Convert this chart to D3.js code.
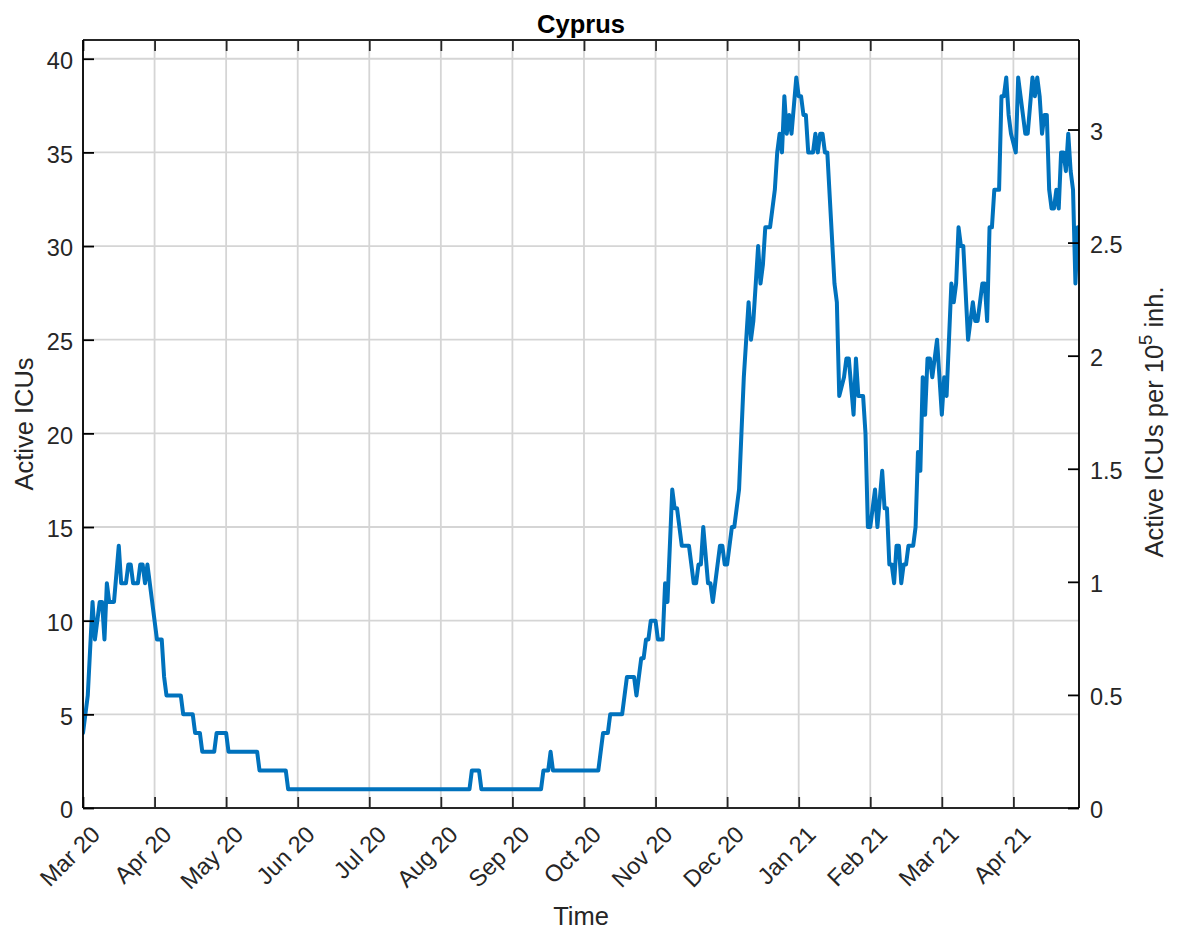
<!DOCTYPE html>
<html><head><meta charset="utf-8">
<script src="https://cdn.jsdelivr.net/npm/d3@7"></script>
<style>
body{margin:0;background:#fff}
svg{display:block}
text{font-family:"Liberation Sans",Arial,Helvetica,sans-serif}
</style>
</head><body>
<svg id="chart" width="1181" height="933"></svg>
<script>
// ---- data ----
const chartTitle = "Cyprus";
const xLabel = "Time";
const yLabelLeft = "Active ICUs";
const xTickDays = [0,30,60,90,120,150,180,210,240,270,300,330,360,390];
const xTickLabels = ["Mar 20","Apr 20","May 20","Jun 20","Jul 20","Aug 20","Sep 20","Oct 20","Nov 20","Dec 20","Jan 21","Feb 21","Mar 21","Apr 21"];
const leftTicks = [0,5,10,15,20,25,30,35,40];
const rightTicks = [0,0.5,1,1.5,2,2.5,3];
const population = 1207359;
const lastDay = 417.5;
const yMax = 41;
// polyline vertices: day index since 1 Mar 2020, active ICU count
const days = [0,1,2,4,5,7,8,9,10,11,13,15,16,18,19,20,21,23,24,25,26,27,31,33,34,35,41,42,46,47,49,50,55,56,60,61,73,74,85,86,
  162,163,166,167,192,193,195,196,197,216,218,220,221,226,228,231,232,234,235,236,237,238,240,241,243,244,245,247,248,249,251,254,256,257,258,259,260,262,263,264,267,268,269,270,272,273,275,276,277,278,279,280,281,282,283,284,285,286,288,290,291,292,293,294,295,296,297,299,300,301,302,303,304,306,307,308,309,310,311,312,315,316,317,
  319,320,321,323,324,325,327,328,329,330,332,333,335,336,337,338,339,340,341,342,343,344,345,346,348,349,350,351,352,353,354,355,356,357,358,360,361,362,364,365,366,367,368,369,371,372,373,374,375,377,378,379,
  380,381,382,384,385,386,387,388,389,391,392,393,395,396,398,399,400,401,402,403,404,405,406,407,408,409,410,411,412,413,414,415,416,417];
const icus = [4,5,6,11,9,11,11,9,12,11,11,14,12,12,13,13,12,12,13,13,12,13,9,9,7,6,6,5,5,4,4,3,3,4,4,3,3,2,2,1,
  1,2,2,1,1,2,2,3,2,2,4,4,5,5,7,7,6,8,8,9,9,10,10,9,9,12,11,17,16,16,14,14,12,12,13,13,15,12,12,11,14,14,13,13,15,15,17,20,23,25,27,25,26,28,30,28,29,31,31,33,35,36,35,38,36,37,36,39,38,38,37,37,35,35,36,35,36,36,35,35,28,27,22,
  23,24,24,21,24,22,22,20,15,15,17,15,18,16,16,13,13,12,14,14,12,13,13,14,14,15,19,18,23,21,24,24,23,24,25,21,23,22,28,27,28,31,30,30,25,26,27,26,26,28,28,26,
  31,31,33,33,38,38,39,37,36,35,39,38,36,36,39,38,39,38,36,37,37,33,32,32,33,32,35,35,34,36,34,33,28,31];

// ---- layout ----
const L = 83, R = 1079, T = 40, B = 808;
const tickFont = 23.5, labelFont = 25.5;
const axisColor = "#262626";

const svg = d3.select("#chart");
const x = d3.scaleLinear().domain([0, lastDay]).range([L, R]);
const y = d3.scaleLinear().domain([0, yMax]).range([B, T]);
const y2 = d3.scaleLinear().domain([0, yMax * 1e5 / population]).range([B, T]);

// grid
const grid = svg.append("g").attr("stroke", "#d5d5d5").attr("stroke-width", 1.8);
grid.selectAll(".gx").data(xTickDays).join("line")
  .attr("x1", d => x(d)).attr("x2", d => x(d)).attr("y1", T).attr("y2", B);
grid.selectAll(".gy").data(leftTicks).join("line")
  .attr("x1", L).attr("x2", R).attr("y1", d => y(d)).attr("y2", d => y(d));

// line
svg.append("clipPath").attr("id", "clip").append("rect")
  .attr("x", L).attr("y", T).attr("width", R - L).attr("height", B - T);
const pts = days.map((d, i) => [d, icus[i]]);
svg.append("path").datum(pts)
  .attr("clip-path", "url(#clip)")
  .attr("fill", "none").attr("stroke", "#0072BD").attr("stroke-width", 4)
  .attr("stroke-linejoin", "round").attr("stroke-linecap", "round")
  .attr("d", d3.line().x(d => x(d[0])).y(d => y(d[1])));

function styleAxis(g, color) {
  g.select(".domain").attr("stroke", color).attr("stroke-width", 1.8);
  g.selectAll(".tick line").attr("stroke", color).attr("stroke-width", 1.8);
  g.selectAll(".tick text").attr("fill", color).attr("font-size", tickFont)
    .attr("font-family", '"Liberation Sans", Arial, sans-serif');
}

// bottom axis
const gx = svg.append("g").attr("transform", `translate(0,${B})`)
  .call(d3.axisBottom(x).tickValues(xTickDays).tickFormat((d, i) => xTickLabels[i])
    .tickSize(-11).tickSizeOuter(0));
styleAxis(gx, axisColor);
gx.selectAll(".tick text").attr("x", 0).attr("y", 0).attr("dy", null)
  .attr("text-anchor", "end").attr("transform", "translate(18,28) rotate(-45)");
gx.select(".domain").attr("d", `M${L},0H${R}`);

// top axis
const gt = svg.append("g").attr("transform", `translate(0,${T})`)
  .call(d3.axisTop(x).tickValues(xTickDays).tickFormat("").tickSize(-11).tickSizeOuter(0));
styleAxis(gt, axisColor);
gt.select(".domain").attr("d", `M${L},0H${R}`);

// left axis
const gl = svg.append("g").attr("transform", `translate(${L},0)`)
  .call(d3.axisLeft(y).tickValues(leftTicks).tickSize(-11).tickSizeOuter(0).tickPadding(10));
styleAxis(gl, "#000");
gl.selectAll(".tick text").attr("dy", "0.42em").attr("fill", axisColor);
gl.select(".domain").attr("d", `M0,${B}V${T}`);

// right axis
const gr = svg.append("g").attr("transform", `translate(${R},0)`)
  .call(d3.axisRight(y2).tickValues(rightTicks).tickFormat(d => String(d)).tickSize(-11).tickSizeOuter(0).tickPadding(11));
styleAxis(gr, "#000");
gr.selectAll(".tick text").attr("dy", "0.42em").attr("fill", axisColor);
gr.select(".domain").attr("d", `M0,${B}V${T}`);

// title & labels
svg.append("text").attr("x", (L + R) / 2).attr("y", 33).attr("text-anchor", "middle")
  .attr("font-size", labelFont).attr("font-weight", "bold").attr("fill", "#000").text(chartTitle);
svg.append("text").attr("x", (L + R) / 2).attr("y", 925).attr("text-anchor", "middle")
  .attr("font-size", labelFont).attr("fill", axisColor).text(xLabel);
svg.append("text").attr("transform", `translate(33,${(T + B) / 2}) rotate(-90)`)
  .attr("text-anchor", "middle").attr("font-size", labelFont).attr("fill", axisColor).text(yLabelLeft);
const rl = svg.append("text").attr("transform", `translate(1163,${(T + B) / 2 - 2}) rotate(-90)`)
  .attr("text-anchor", "middle").attr("font-size", labelFont).attr("fill", axisColor);
rl.append("tspan").text("Active ICUs per 10");
rl.append("tspan").attr("font-size", labelFont * 0.72).attr("dy", "-0.62em").text("5");
rl.append("tspan").attr("dy", "0.45em").text(" inh.");
</script>
</body></html>
